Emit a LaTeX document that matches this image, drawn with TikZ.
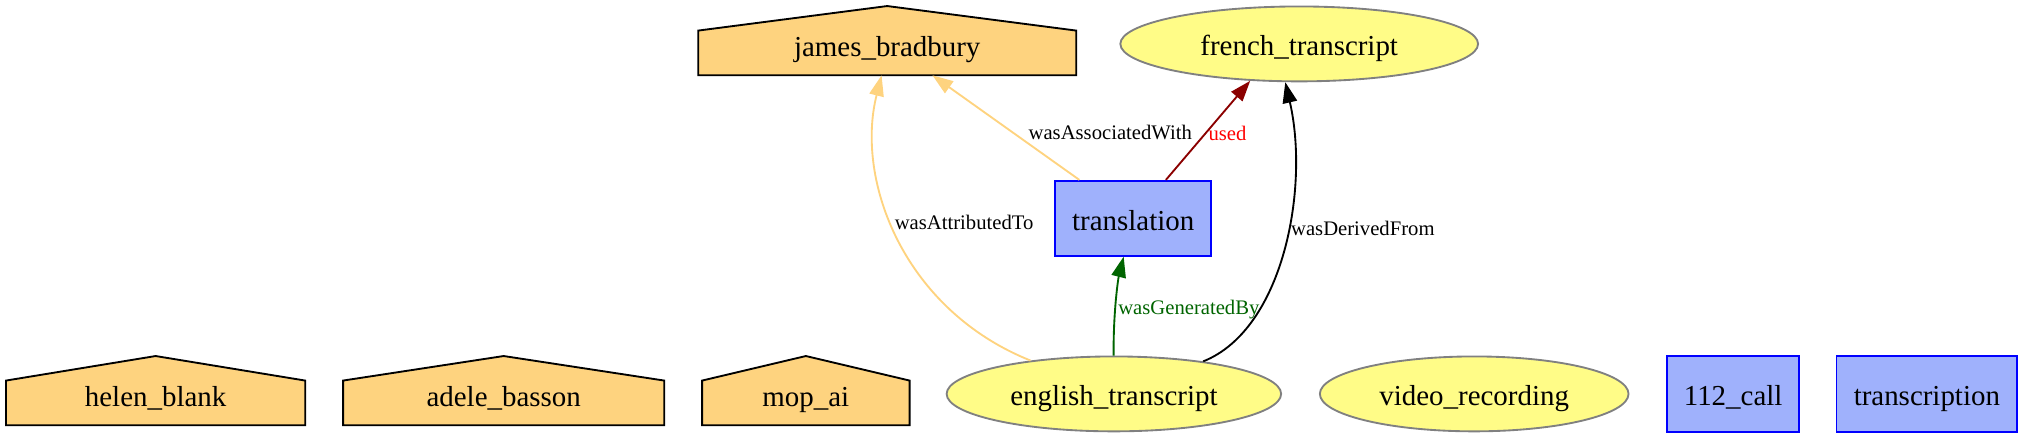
\documentclass[tikz,border=0pt]{standalone}
\usepackage{fontspec}
\setmainfont{Liberation Serif}
\usetikzlibrary{arrows.meta,shapes.geometric,backgrounds}

% one unit of the layout grid
\newdimen\pxu \pxu=0.625pt

\definecolor{agentfill}{HTML}{FED37F}
\definecolor{entityfill}{HTML}{FFFC87}
\definecolor{entityline}{HTML}{808080}
\definecolor{actfill}{HTML}{9FB1FC}
\definecolor{actline}{HTML}{0000FF}
\definecolor{usedline}{HTML}{8B0000}
\definecolor{usedtext}{HTML}{FF0000}
\definecolor{genline}{HTML}{006400}

\tikzset{
  agent/.style={rectangle, inner sep=0pt, minimum height=34\pxu, text height=3.6pt, text depth=0pt,
                font=\fontsize{14}{16}\selectfont},
  house/.style={fill=agentfill, draw=black, line width=0.9pt},
  entity/.style={ellipse, draw=entityline, fill=entityfill, line width=0.9pt, inner sep=0pt,
                 minimum height=58\pxu, text height=11.6pt, text depth=0pt, font=\fontsize{14}{16}\selectfont},
  activity/.style={rectangle, draw=actline, fill=actfill, line width=0.9pt, inner sep=0pt,
                   minimum height=58\pxu, text height=11.6pt, text depth=0pt, font=\fontsize{14}{16}\selectfont},
  rel/.style={-{Triangle[length=10pt, width=7pt]}, line width=0.9pt},
  elabel/.style={font=\fontsize{10}{12}\selectfont, inner sep=1pt},
}

\begin{document}
\begin{tikzpicture}[x=0.625pt, y=-0.625pt]
    \useasboundingbox (0,0) rectangle (1568,342);

    % Agents
    \node[agent, minimum width=292\pxu] (jb) at (687,41) {james\_bradbury};
    \node[agent, minimum width=231\pxu] (helen) at (120.5,312) {helen\_blank};
    \node[agent, minimum width=248\pxu] (adele) at (390,312) {adele\_basson};
    \node[agent, minimum width=160\pxu] (mop) at (624,312) {mop\_ai};

    % Entities
    \node[entity, minimum width=277\pxu] (french) at (1006,34) {french\_transcript};
    \node[entity, minimum width=259\pxu] (english) at (862.5,305) {english\_transcript};
    \node[entity, minimum width=239\pxu] (video) at (1141.5,305) {video\_recording};

    % Activities
    \node[activity, minimum width=121\pxu] (translation) at (877.5,169) {translation};
    \node[activity, minimum width=102\pxu, minimum height=59\pxu] (call) at (1342,305) {112\_call};
    \node[activity, minimum width=140\pxu, minimum height=59\pxu] (transcription) at (1492,305) {transcription};

    % House outlines behind the agent labels
    \begin{scope}[on background layer]
        \foreach \a in {jb,helen,adele,mop}
            \filldraw[house] (\a.south west) -- (\a.north west) -- ([yshift=19\pxu]\a.north)
                -- (\a.north east) -- (\a.south east) -- cycle;
    \end{scope}

    % Relations
    \draw[rel, agentfill] (english) .. controls (700,240) and (662,140) .. (jb)
        node[elabel, black, pos=0.55, right] {wasAttributedTo};
    \draw[rel, agentfill] (translation) -- ([xshift=35\pxu]jb.south)
        node[elabel, black, pos=0.45, right=6pt] {wasAssociatedWith};
    \draw[rel, usedline] (translation) -- (french.217)
        node[elabel, usedtext, pos=0.47, right] {used};
    \draw[rel, genline] (english) .. controls (862,240) and (866,215) .. (translation)
        node[elabel, pos=0.38, right] {wasGeneratedBy};
    \draw[rel, black] (english.20) .. controls (994,255) and (1014,145) .. (french.250)
        node[elabel, pos=0.565, right] {wasDerivedFrom};
\end{tikzpicture}
\end{document}
